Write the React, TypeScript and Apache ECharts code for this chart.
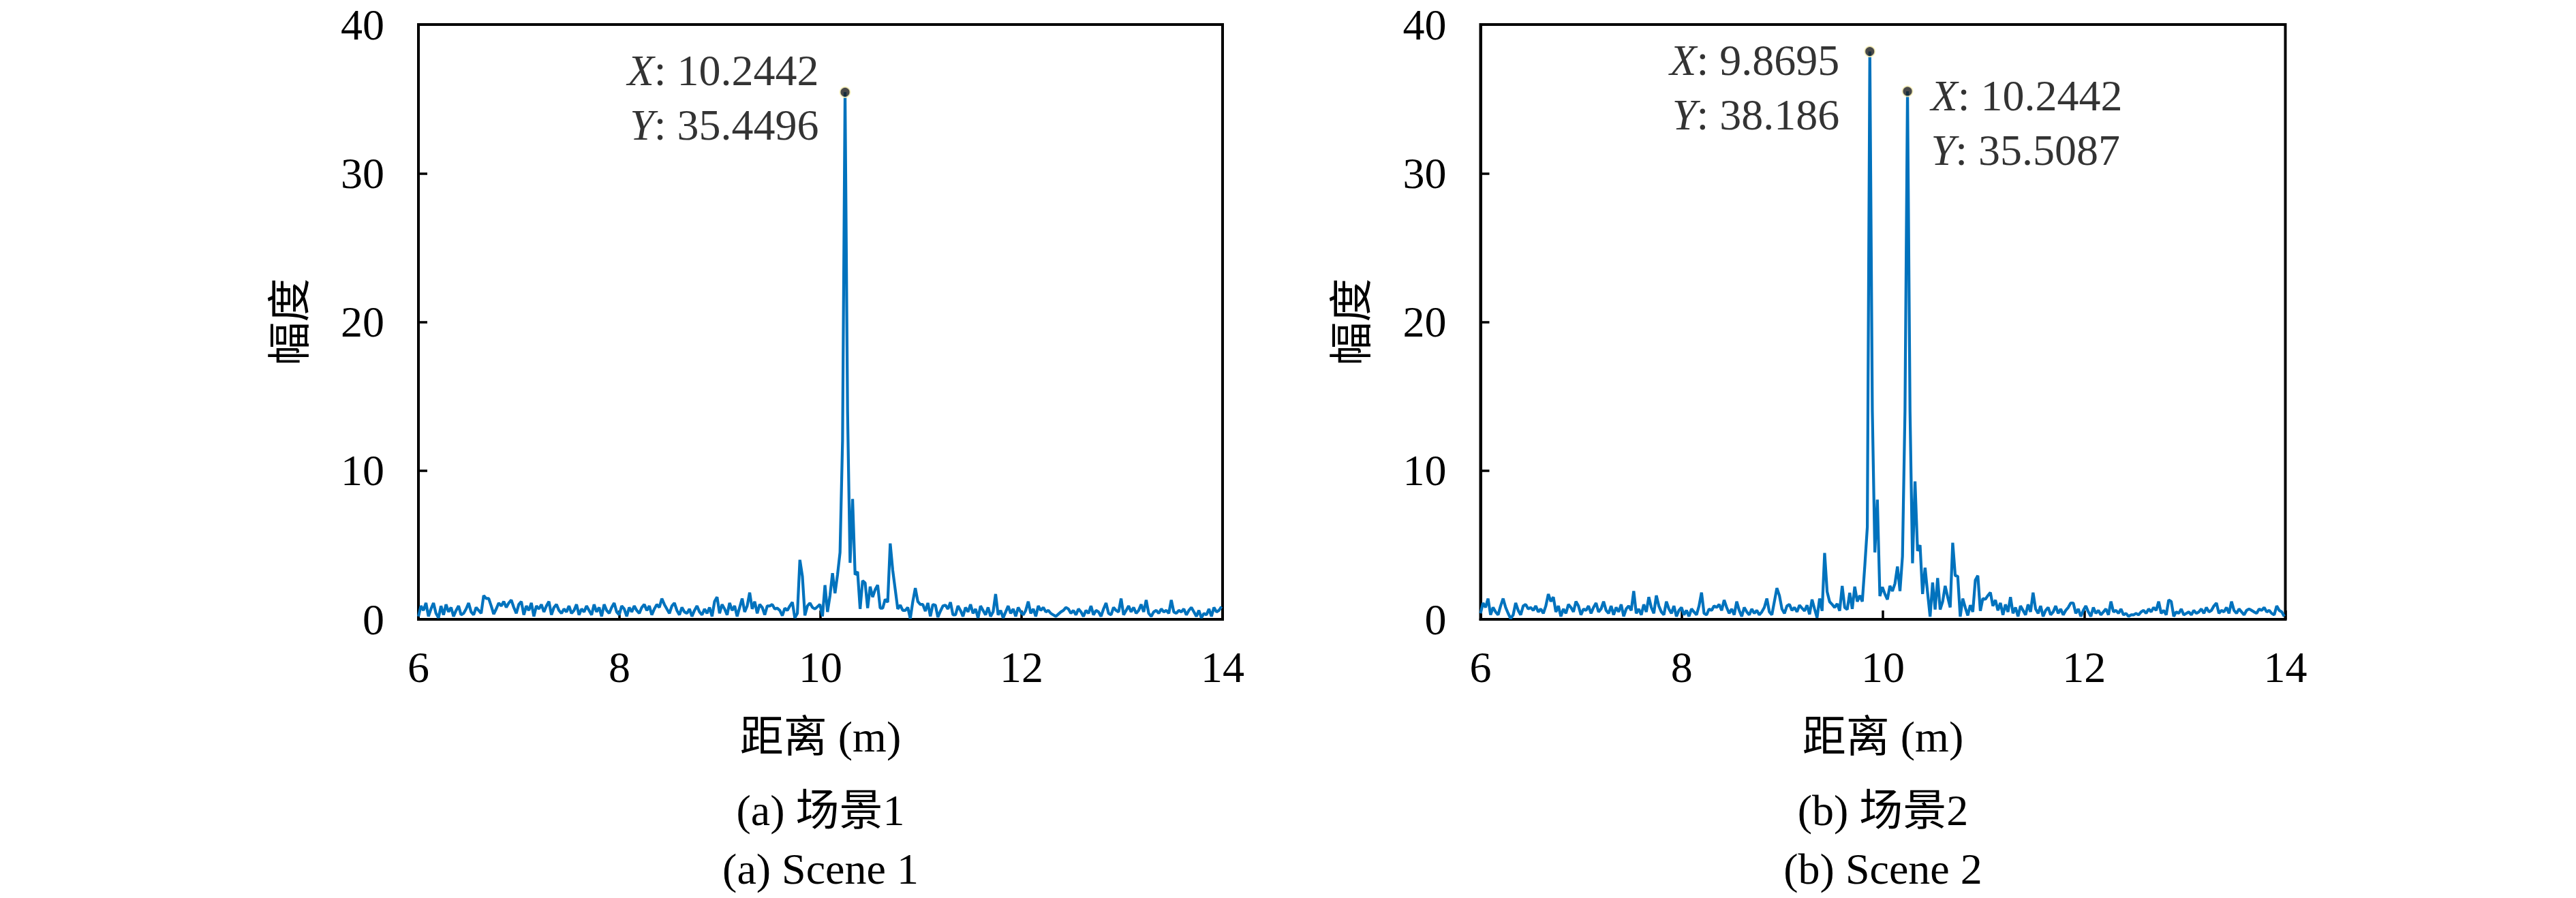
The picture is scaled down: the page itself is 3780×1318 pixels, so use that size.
import React, { useEffect, useRef } from "react";
import * as echarts from "echarts";

// sampling grid of the range profile (m)
const X_START = 6;
const X_STEP = 0.024966;

const xTickValues = [6, 8, 10, 12, 14];
const yTickValues = [0, 10, 20, 30, 40];

// Scene 1 amplitude samples
const scene1 = [
  0.2, 0.9, 0.6, 1.1, 0.2, 0.7, 1.1, 0.4, 0.1, 0.9,
  0.3, 1.0, 0.5, 0.8, 0.2, 0.6, 0.9, 0.3, 0.4, 0.7,
  1.1, 0.5, 0.3, 0.8, 0.6, 0.4, 1.6, 1.4, 1.4, 0.9,
  0.35, 0.7, 1.1, 0.9, 1.2, 0.8, 1.1, 1.3, 0.8, 0.4,
  1.0, 1.2, 0.3, 0.9, 0.6, 1.1, 0.2, 0.9, 0.7, 1.0,
  0.5, 0.9, 1.2, 0.3, 0.8, 1.0, 0.6, 0.4, 0.7, 0.5,
  0.9, 0.4, 0.6, 1.0, 0.3, 0.7, 0.5, 0.9, 0.6, 0.3,
  1.0, 0.5, 0.8, 0.2, 1.0, 0.6, 0.4, 0.8, 1.1, 0.5,
  0.3, 0.9, 0.7, 0.2, 0.8, 0.5, 0.9, 0.6, 0.4, 0.8,
  1.0, 0.6, 0.9, 0.3, 0.7, 1.0, 0.8, 1.4, 1.0, 0.7,
  0.4, 0.9, 1.1, 0.6, 0.3, 0.8, 0.5, 0.4, 0.7, 0.2,
  0.6, 0.9, 0.5, 0.3, 0.7, 0.4, 0.8, 0.2, 1.2, 1.5,
  0.4, 1.0, 0.7, 0.3, 1.1, 0.6, 0.9, 0.2, 0.8, 1.4,
  0.5, 0.9, 1.8, 0.7, 1.2, 0.4, 1.0, 0.8, 0.3, 0.9,
  0.9, 1.0, 0.7, 0.75, 0.6, 0.25, 0.75, 0.6, 0.9, 1.15,
  0.1, 0.4, 4.0, 2.9, 0.26, 0.9, 1.1, 0.8, 0.7, 0.85,
  1.0, 0.2, 2.3, 0.5, 1.6, 3.1, 1.75, 3.0, 4.5, 12,
  35.4496, 14, 3.8, 8.1, 3.0, 3.2, 0.7, 2.6, 2.45, 0.75,
  2.2, 1.5, 2.0, 2.3, 0.75, 0.75, 1.35, 1.15, 5.1, 3.3,
  2.0, 0.7, 0.95, 0.6, 0.6, 0.8, 0.05, 1.2, 2.1, 1.2,
  1.0, 1.0, 0.55, 1.1, 0.2, 1.0, 0.95, 0.15, 0.55, 0.9,
  0.95, 0.7, 1.15, 0.3, 0.3, 0.9, 0.6, 0.2, 0.8, 0.5,
  1.0, 0.4, 0.7, 0.1, 0.9, 0.6, 0.3, 0.8, 0.2, 0.5,
  1.7, 0.3, 0.6, 0.1, 0.5, 0.9, 0.4, 0.7, 0.2, 0.8,
  0.5, 0.3, 0.6, 1.2, 0.4, 0.7, 0.2, 0.9, 0.6, 0.8,
  0.5, 0.6, 0.4, 0.3, 0.2, 0.35, 0.5, 0.6, 0.8, 0.7,
  0.4, 0.6, 0.3, 0.7, 0.5, 0.2, 0.6, 0.4, 0.9, 0.3,
  0.6, 0.5, 0.2, 0.7, 1.1, 0.4, 0.3, 0.8, 0.6, 0.5,
  1.4, 0.3, 0.6, 0.9, 0.5, 0.8, 0.4, 0.6, 1.0, 0.5,
  1.3, 0.4, 0.2, 0.5, 0.6, 0.4, 0.7, 0.5, 0.6, 0.4,
  1.3, 0.5, 0.4, 0.6, 0.5, 0.7, 0.3, 0.6, 0.8, 0.5,
  0.2, 0.6, 0.1, 0.4, 0.3, 0.7, 0.2, 0.8, 0.5, 0.6, 0.85,
];

// Scene 2 amplitude samples
const scene2 = [
  0.4, 1.1, 0.8, 1.4, 0.3, 0.8, 0.5, 0.3, 0.9, 1.4,
  0.8, 0.4, 0.05, 0.3, 1.1, 0.6, 0.3, 0.9, 1.0, 0.7,
  0.8, 0.6, 0.9, 0.5, 0.7, 0.4, 0.9, 1.7, 1.2, 1.5,
  0.5, 0.9, 0.2, 0.7, 0.4, 1.0, 0.8, 0.5, 1.2, 0.9,
  0.3, 0.7, 0.6, 0.9, 0.4, 0.8, 1.1, 0.5, 0.7, 1.2,
  0.6, 0.4, 0.9, 0.3, 0.8, 0.5, 1.0, 0.2, 0.7, 0.9,
  0.6, 1.9, 0.4, 0.7, 0.3, 1.0, 0.5, 1.5, 0.8, 0.4,
  1.6, 0.9, 0.5, 0.3, 1.2, 0.7, 0.4, 0.9, 0.2, 0.6,
  0.8, 0.3, 0.6, 0.2, 0.7, 0.5, 0.3, 0.9, 1.8, 0.4,
  0.3, 0.7, 0.6, 0.9, 0.8, 1.0, 0.6, 1.3, 0.8, 0.4,
  0.7, 0.3, 1.2, 0.6, 0.2, 0.8, 0.5, 0.3, 0.7, 0.4,
  0.6, 0.3, 0.5, 0.8, 1.4, 0.5, 0.3, 1.2, 2.1, 1.6,
  0.7, 0.4, 0.9, 1.0, 0.6, 0.8, 0.5, 0.95, 0.75, 0.57,
  0.95, 0.34, 1.33, 0.7, 0.11, 1.4, 0.57, 4.46, 1.86, 1.18,
  1.0, 0.8, 1.05, 0.57, 2.25, 0.8, 0.66, 1.78, 0.7, 2.2,
  1.2, 1.6, 1.2, 3.6, 6.2, 38.186, 14, 4.5, 8.05, 1.56,
  2.17, 1.7, 1.33, 2.25, 1.9, 2.4, 3.55, 1.9, 4.23, 14,
  35.5087, 14, 3.77, 9.27, 4.6, 4.99, 1.7, 3.47, 1.78, 0.18,
  2.48, 0.66, 2.78, 0.66, 1.2, 2.25, 1.5, 0.8, 5.15, 2.94,
  2.9, 0.18, 1.4, 0.8, 0.26, 0.95, 0.5, 2.63, 2.94, 0.57,
  1.4, 1.35, 1.6, 1.8, 0.9, 1.3, 0.6, 1.1, 0.3, 1.0,
  0.5, 1.5, 0.4, 0.8, 0.2, 0.9, 0.6, 0.3, 1.0, 0.5,
  1.8, 0.7, 0.4, 0.9, 0.2, 0.6, 0.8, 0.3, 0.5, 0.9,
  0.4, 0.7, 0.3, 0.6, 0.8, 1.1, 1.1, 0.4, 0.7, 0.2,
  0.6, 0.9, 0.5, 0.2, 0.8, 0.4, 0.6, 0.3, 0.5, 0.7,
  0.3, 1.2, 0.5, 0.6, 0.4, 0.7, 0.3, 0.4, 0.2, 0.3,
  0.3, 0.4, 0.3, 0.5, 0.6, 0.4, 0.7, 0.5, 0.8, 0.6,
  1.2, 0.4, 0.6, 0.3, 1.3, 1.2, 0.2, 0.5, 0.4, 0.7,
  0.3, 0.4, 0.5, 0.3, 0.6, 0.4, 0.5, 0.7, 0.4, 0.8,
  0.5, 0.6, 0.9, 1.1, 0.4, 0.6, 0.5, 0.8, 0.4, 1.2,
  0.6, 0.4, 0.7, 0.5, 0.3, 0.6, 0.7, 0.6, 0.5, 0.4,
  0.7, 0.6, 0.8, 0.5, 0.6, 0.4, 0.3, 0.9, 0.6, 0.5, 0.2,
];

// data tips [x, y]
const peaks1 = [[10.2442, 35.4496]];
const peaks2 = [
  [9.8695, 38.186],
  [10.2442, 35.5087],
];

const xAxisName = "距离 (m)";
const yAxisName = "幅度";
const captionsCN = ["(a) 场景1", "(b) 场景2"];
const captionsEN = ["(a) Scene 1", "(b) Scene 2"];

const FONT = "'Liberation Serif', 'Noto Sans CJK SC', serif";
const FS = 64;
const LINE_COLOR = "#0072BD";

export default function App() {
  const ref = useRef<HTMLDivElement>(null);

  useEffect(() => {
    document.body.style.margin = "0";
    const chart = echarts.init(ref.current!, null, { renderer: "svg" });

    const toPairs = (arr: number[]) => arr.map((v, i) => [X_START + i * X_STEP, v]);

    const grids = [
      { left: 614, top: 36, width: 1180, height: 873 },
      { left: 2172.5, top: 36, width: 1181, height: 873 },
    ];

    const makeX = (gi: number) => ({
      gridIndex: gi,
      type: "value",
      min: xTickValues[0],
      max: xTickValues[xTickValues.length - 1],
      interval: xTickValues[1] - xTickValues[0],
      axisLine: { show: true, lineStyle: { color: "#000", width: 4 } },
      axisTick: { show: true, inside: true, length: 13, lineStyle: { color: "#000", width: 3.5 } },
      axisLabel: { color: "#000", fontSize: FS, fontFamily: FONT, margin: 38 },
      splitLine: { show: false },
      name: xAxisName,
      nameLocation: "middle",
      nameGap: 140,
      nameTextStyle: { color: "#000", fontSize: FS, fontFamily: FONT },
    });

    const makeY = (gi: number) => ({
      gridIndex: gi,
      type: "value",
      min: yTickValues[0],
      max: yTickValues[yTickValues.length - 1],
      interval: yTickValues[1] - yTickValues[0],
      axisLine: { show: true, lineStyle: { color: "#000", width: 4 } },
      axisTick: { show: true, inside: true, length: 13, lineStyle: { color: "#000", width: 3.5 } },
      axisLabel: { color: "#000", fontSize: FS, fontFamily: FONT, margin: 50 },
      splitLine: { show: false },
      name: yAxisName,
      nameLocation: "middle",
      nameGap: 157,
      nameTextStyle: { color: "#000", fontSize: FS, fontFamily: FONT },
    });

    const tipLabel = {
      show: true,
      color: "#000",
      textBorderWidth: 0,
      fontSize: FS,
      fontFamily: FONT,
      lineHeight: 80,
      formatter: (p: any) => `{i|X}: {n|${p.value[0]}}\n{i|Y}: {n|${p.value[1]}}`,
      rich: {
        i: { fontStyle: "italic", fontSize: FS, fontFamily: FONT, color: "#000", lineHeight: 80 },
        n: { fontSize: FS, fontFamily: FONT, color: "#000", lineHeight: 80 },
      },
    };

    const tipStyle = { color: "#1a1a1a", borderColor: "#fff7c0", borderWidth: 2 };

    const tipLayouts1 = [{ position: "left", distance: 30, offset: [0, 8] }];
    const tipLayouts2 = [
      { position: "left", distance: 36, offset: [0, 53] },
      { position: "right", distance: 26, offset: [0, 46] },
    ];

    const lineSeries = (idx: number, arr: number[]) => ({
      type: "line",
      xAxisIndex: idx,
      yAxisIndex: idx,
      data: toPairs(arr),
      showSymbol: false,
      lineStyle: { color: LINE_COLOR, width: 4.2 },
      itemStyle: { color: LINE_COLOR },
    });

    const option: any = {
      animation: false,
      backgroundColor: "#fff",
      grid: grids.map((g) => ({ ...g, show: true, borderColor: "#000", borderWidth: 4, backgroundColor: "transparent" })),
      xAxis: [makeX(0), makeX(1)],
      yAxis: [makeY(0), makeY(1)],
      series: [
        lineSeries(0, scene1),
        lineSeries(1, scene2),
        {
          type: "scatter",
          xAxisIndex: 0,
          yAxisIndex: 0,
          symbolSize: 15,
          z: 10,
          itemStyle: tipStyle,
          label: tipLabel,
          data: peaks1.map((p, i) => ({ value: p, label: tipLayouts1[i] })),
        },
        {
          type: "scatter",
          xAxisIndex: 1,
          yAxisIndex: 1,
          symbolSize: 15,
          z: 10,
          itemStyle: tipStyle,
          label: tipLabel,
          data: peaks2.map((p, i) => ({ value: p, label: tipLayouts2[i] })),
        },
      ],
      graphic: grids.flatMap((g, gi) => {
        const cx = g.left + g.width / 2;
        return [
          {
            type: "text",
            x: cx,
            y: 1189,
            style: {
              text: captionsCN[gi],
              fill: "#000",
              fontSize: FS,
              fontFamily: FONT,
              align: "center",
              verticalAlign: "middle",
              textAlign: "center",
              textVerticalAlign: "middle",
            },
          },
          {
            type: "text",
            x: cx,
            y: 1275,
            style: {
              text: captionsEN[gi],
              fill: "#000",
              fontSize: FS,
              fontFamily: FONT,
              align: "center",
              verticalAlign: "middle",
              textAlign: "center",
              textVerticalAlign: "middle",
            },
          },
        ];
      }),
    };

    chart.setOption(option);
    return () => chart.dispose();
  }, []);

  return <div ref={ref} style={{ width: 3780, height: 1318 }} />;
}
